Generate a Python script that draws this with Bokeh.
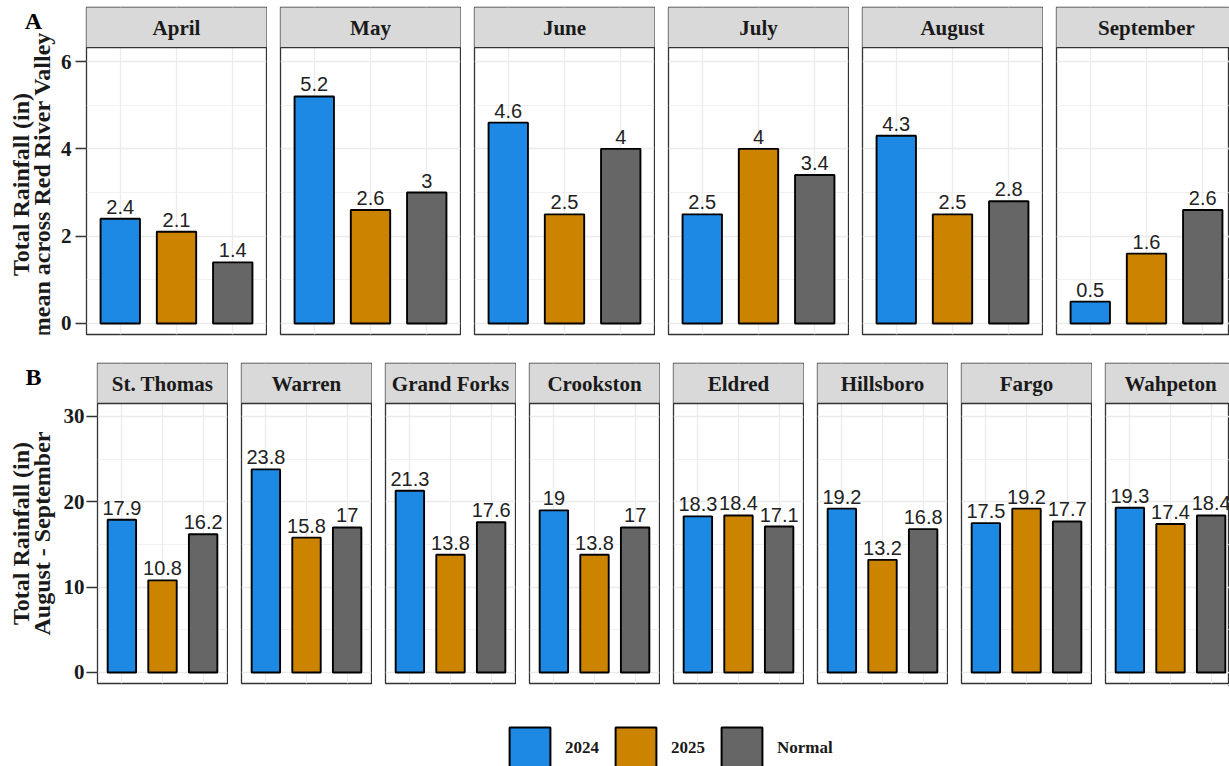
import math

from bokeh.plotting import figure
from bokeh.models import ColumnDataSource, Range1d, FixedTicker, Legend, LegendItem
from bokeh.layouts import row, column
from bokeh.embed import file_html
from bokeh.resources import INLINE
from bokeh.core.properties import value

# ---- data -------------------------------------------------------------
series = ["2024", "2025", "Normal"]
series_colors = ["#1E88E5", "#CC8400", "#666666"]

months = ["April", "May", "June", "July", "August", "September"]
month_2024 = [2.4, 5.2, 4.6, 2.5, 4.3, 0.5]
month_2025 = [2.1, 2.6, 2.5, 4.0, 2.5, 1.6]
month_normal = [1.4, 3.0, 4.0, 3.4, 2.8, 2.6]
month_ticks = [0, 2, 4, 6]
month_minor = [1, 3, 5]

stations = ["St. Thomas", "Warren", "Grand Forks", "Crookston",
            "Eldred", "Hillsboro", "Fargo", "Wahpeton"]
station_2024 = [17.9, 23.8, 21.3, 19.0, 18.3, 19.2, 17.5, 19.3]
station_2025 = [10.8, 15.8, 13.8, 13.8, 18.4, 13.2, 19.2, 17.4]
station_normal = [16.2, 17.0, 17.6, 17.0, 17.1, 16.8, 17.7, 18.4]
station_ticks = [0, 10, 20, 30]
station_minor = [5, 15, 25]

# ---- styling ----------------------------------------------------------
SERIF = "Liberation Serif"
SANS = "Liberation Sans"
INK = "#1a1a1a"
DARK = "#333333"
GRID = "#EBEBEB"
STRIP = "#D9D9D9"
PAGE_W = 1229
GAP = 12
TITLE_W = 56              # column that holds the panel tag and y-axis title
X_LO, X_SPAN = 0.4, 3.2   # discrete axis: three slots with 0.6 padding
LABEL_LIFT = 5            # px between a bar top and its value label


def label_text(v):
    return f"{v:g}"


def title_column(geom, tag, tag_y, title_y, title_lines):
    """Narrow strip left of the first panel: panel tag and rotated axis title.

    Its frame lines up with the panels' frames, so the ranges are given in
    pixels measured from the top of the row.
    """
    top, fh, bottom = geom["top"], geom["frame_h"], geom["bottom"]
    t = figure(width=TITLE_W, height=top + fh + bottom,
               x_range=Range1d(0, TITLE_W), y_range=Range1d(top + fh, top),
               output_backend="svg", toolbar_location=None,
               min_border_left=0, min_border_right=0,
               min_border_top=top, min_border_bottom=bottom)
    t.axis.visible = False
    t.grid.visible = False
    t.outline_line_color = None
    t.text(x=[33], y=[tag_y], text=[tag], text_align="center", text_baseline="middle",
           text_font=value(SERIF), text_font_style="bold", text_font_size="24px",
           text_color="black")
    t.text(x=[20, 41], y=[title_y, title_y], text=title_lines, angle=math.pi / 2,
           text_align="center", text_baseline="middle",
           text_font=value(SERIF), text_font_style="bold", text_font_size="24px",
           text_color=INK)
    return t


def make_row(names, columns, ticks, minor, geom, tick_standoff,
             tag, tag_y, title_y, title_lines):
    figs = []
    n = len(names)
    used = TITLE_W
    units_per_px = (geom["y_hi"] - geom["y_lo"]) / geom["frame_h"]
    for i, name in enumerate(names):
        first = i == 0
        left = geom["left"] - TITLE_W if first else 1
        fw = geom["frame_w"]
        width = left + fw + 1
        right = 1
        x_hi = X_LO + X_SPAN
        if i == n - 1:
            # the last panel runs off the page edge
            width = PAGE_W - used - GAP
            right = 0
            x_hi = X_LO + (width - left) * X_SPAN / fw
        used += width + (GAP if i > 0 else 0)

        p = figure(width=width, height=geom["top"] + geom["frame_h"] + geom["bottom"],
                   x_range=Range1d(X_LO, x_hi),
                   y_range=Range1d(geom["y_lo"], geom["y_hi"]),
                   output_backend="svg", toolbar_location=None,
                   min_border_left=left, min_border_right=right,
                   min_border_top=geom["top"], min_border_bottom=geom["bottom"])
        p.background_fill_color = "white"
        p.border_fill_color = "white"
        p.outline_line_color = DARK
        p.outline_line_width = 1.3

        # grid
        p.xgrid.ticker = FixedTicker(ticks=[1, 2, 3])
        p.xgrid.grid_line_color = GRID
        p.xgrid.grid_line_width = 1.3
        p.ygrid.ticker = FixedTicker(ticks=ticks, minor_ticks=minor)
        p.ygrid.grid_line_color = GRID
        p.ygrid.grid_line_width = 1.3
        p.ygrid.minor_grid_line_color = GRID
        p.ygrid.minor_grid_line_width = 0.7

        p.xaxis.visible = False
        if first:
            ax = p.yaxis[0]
            ax.ticker = FixedTicker(ticks=ticks, minor_ticks=minor)
            ax.axis_line_color = None
            ax.major_tick_out = 11
            ax.major_tick_in = 0
            ax.major_tick_line_color = DARK
            ax.major_tick_line_width = 1.3
            ax.minor_tick_line_color = None
            ax.major_label_standoff = tick_standoff
            ax.major_label_text_font = SERIF
            ax.major_label_text_font_style = "bold"
            ax.major_label_text_font_size = "21px"
            ax.major_label_text_color = INK
        else:
            p.yaxis.visible = False

        vals = [c[i] for c in columns]
        src = ColumnDataSource(dict(x=[1, 2, 3], top=vals, color=series_colors,
                                    label_y=[v + LABEL_LIFT * units_per_px for v in vals],
                                    txt=[label_text(v) for v in vals]))
        p.vbar(x="x", top="top", bottom=0, width=0.7, source=src,
               fill_color="color", line_color="black", line_width=1.9)
        p.text(x="x", y="label_y", text="txt", source=src,
               text_align="center", text_baseline="bottom",
               text_font=value(SANS), text_font_size="20px", text_color="#222222")

        # facet strip
        p.quad(left=X_LO - 1, right=X_LO + X_SPAN + 1, bottom=geom["strip_lo"],
               top=geom["y_hi"] + 1, fill_color=STRIP, line_color=DARK, line_width=1.3)
        p.text(x=[2], y=[(geom["strip_lo"] + geom["y_hi"]) / 2], text=[name],
               text_align="center", text_baseline="middle",
               text_font=value(SERIF), text_font_style="bold",
               text_font_size="21px", text_color=INK)
        figs.append(p)

    lead = row(title_column(geom, tag, tag_y, title_y, title_lines), figs[0], spacing=0)
    return row(lead, *figs[1:], spacing=GAP)


GEOM_A = dict(left=86, frame_w=180, top=7, frame_h=327, bottom=11,
              y_lo=-0.252, y_hi=7.237, strip_lo=6.32)
GEOM_B = dict(left=97, frame_w=130, top=18, frame_h=320, bottom=2,
              y_lo=-1.29, y_hi=36.21, strip_lo=31.52)

row_a = make_row(months, [month_2024, month_2025, month_normal],
                 month_ticks, month_minor, GEOM_A, 4, "A", 20, 184,
                 ["Total Rainfall (in)", "mean across Red River Valley"])
row_b = make_row(stations, [station_2024, station_2025, station_normal],
                 station_ticks, station_minor, GEOM_B, 2, "B", 31.5, 188,
                 ["Total Rainfall (in)", "August - September"])

# ---- legend -----------------------------------------------------------
leg = figure(width=PAGE_W, height=81, x_range=Range1d(0, 1), y_range=Range1d(0, 1),
             output_backend="svg", toolbar_location=None,
             min_border_left=0, min_border_right=0, min_border_top=0, min_border_bottom=0)
leg.axis.visible = False
leg.grid.visible = False
leg.outline_line_color = None
items = []
for s, c in zip(series, series_colors):
    # keyed renderers sit outside the visible range; only their legend swatch shows
    r = leg.vbar(x=[5], top=[5], bottom=[4], width=0.1,
                 fill_color=c, line_color="black", line_width=2)
    items.append(LegendItem(label=s, renderers=[r]))
legend = Legend(items=items, orientation="horizontal", location=(504, -7),
                padding=0, margin=0, spacing=11, label_standoff=10, label_width=34,
                glyph_width=51, glyph_height=51,
                border_line_color=None, background_fill_alpha=0,
                label_text_font=SERIF, label_text_font_style="bold",
                label_text_font_size="17px", label_text_color=INK)
leg.add_layout(legend, "center")

layout = column(row_a, row_b, leg, spacing=0)
open("out.html", "w").write(file_html(layout, INLINE))
